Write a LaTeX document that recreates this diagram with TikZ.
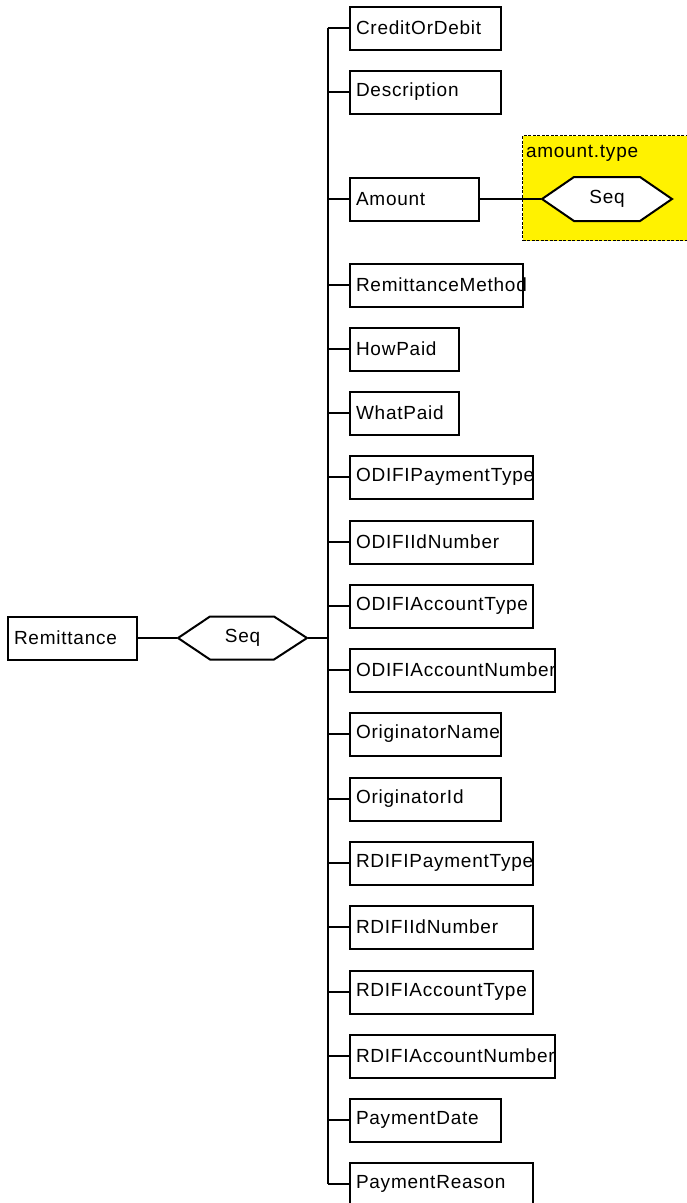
\documentclass[tikz,border=0pt]{standalone}
\usepackage{fontspec}
\setmainfont{Liberation Sans}[LetterSpace=4]
\usetikzlibrary{calc}
\begin{document}
\begin{tikzpicture}[x=1pt,y=-1pt,
  line width=2pt,
  box/.style={draw, rectangle, minimum height=43pt, inner sep=0pt, anchor=west, line width=2pt},
  lbl/.style={anchor=west, inner sep=0pt, font=\fontsize{19}{22}\selectfont},
  hexlbl/.style={rectangle, inner sep=0pt, minimum height=43pt, font=\fontsize{19}{22}\selectfont},
  hexdraw/.style={draw, fill=white, line width=2pt},
  branch/.style={line width=2pt},
  typebox/.style={draw, fill=yellow, line width=1pt, dash pattern=on 3pt off 1.5pt, rectangle, anchor=north west, inner sep=0pt}
]
\useasboundingbox (0,0) rectangle (686,1203);

% entry macro: name, y, right x, text
\newcommand{\entrybox}[4]{%
  \node[box, minimum width=#3-349] (#1) at (349,#2) {};
  \node[lbl] (#1t) at ([xshift=6pt]#1.west) {#4};
  \coordinate (#1j) at (327.5,#2);
  \draw[branch] (#1j) -- (#1.west);
}

% left root
\node[box, minimum width=129] (remit) at (7,638) {};
\node[lbl] (remitt) at ([xshift=6pt]remit.west) {Remittance};

% main Seq hexagon
\coordinate (s1c) at (242.5,638);
\draw[hexdraw] ($(s1c)+(-64.5,0)$) -- ++(32,-21.5) -- ++(64,0) -- ++(33,21.5) -- ++(-33,21.5) -- ++(-64,0) -- cycle;
\node[hexlbl, minimum width=129] (seq1) at (s1c) {Seq};
\coordinate (spine) at (327.5,638);
\draw (remit.east) -- (seq1.west);
\draw (seq1.east) -- (spine);

% yellow amount.type box
\node[typebox, minimum width=170, minimum height=105] (amtype) at (522,135) {};
\node[lbl, anchor=base west] (amtypet) at (525,157) {amount.type};
\coordinate (s2c) at (607,199);
\draw[hexdraw] ($(s2c)+(-65,0)$) -- ++(32,-22) -- ++(66,0) -- ++(32,22) -- ++(-32,22) -- ++(-66,0) -- cycle;
\node[hexlbl, minimum width=130] (seq2) at (s2c) {Seq};

% entries
\entrybox{e1}{28}{500}{CreditOrDebit}
\entrybox{e2}{92}{500}{Description}
\entrybox{e3}{199}{478}{Amount}
\entrybox{e4}{285}{522}{RemittanceMethod}
\entrybox{e5}{349}{458}{HowPaid}
\entrybox{e6}{413}{458}{WhatPaid}
\entrybox{e7}{477}{532}{ODIFIPaymentType}
\entrybox{e8}{542}{532}{ODIFIIdNumber}
\entrybox{e9}{606}{532}{ODIFIAccountType}
\entrybox{e10}{670}{554}{ODIFIAccountNumber}
\entrybox{e11}{734}{500}{OriginatorName}
\entrybox{e12}{799}{500}{OriginatorId}
\entrybox{e13}{863}{532}{RDIFIPaymentType}
\entrybox{e14}{927}{532}{RDIFIIdNumber}
\entrybox{e15}{992}{532}{RDIFIAccountType}
\entrybox{e16}{1056}{554}{RDIFIAccountNumber}
\entrybox{e17}{1120}{500}{PaymentDate}
\entrybox{e18}{1184}{532}{PaymentReason}

\draw (e1j) -- (e18j);
\draw (e3.east) -- (seq2.west);
\end{tikzpicture}
\end{document}
